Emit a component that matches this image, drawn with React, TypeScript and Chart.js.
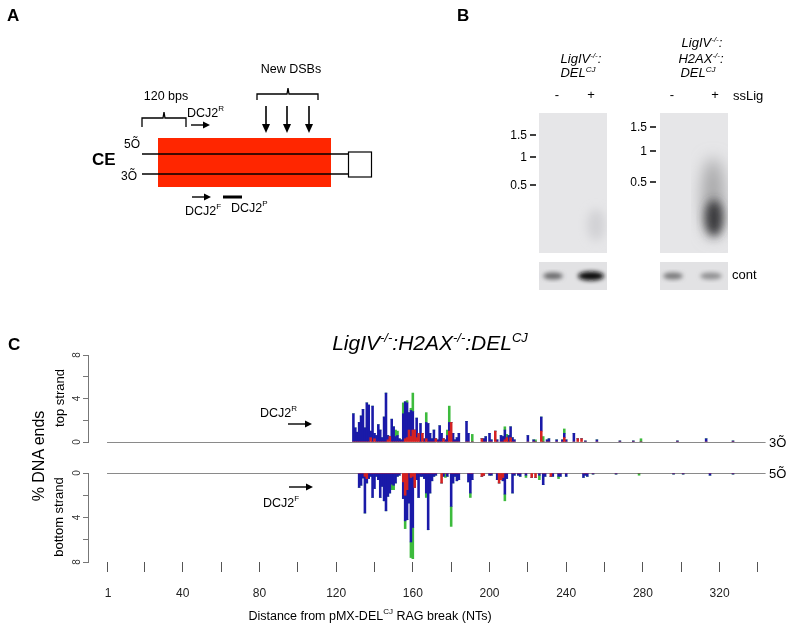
import React, { useEffect, useRef } from 'react';
import { Chart, registerables } from 'chart.js';
Chart.register(...registerables);

// ---------- DATA (panel C) ----------
const topPos = [129,130,131,132,133,134,135,136,137,138,
  139,140,141,142,143,144,145,146,147,148,
  149,150,151,152,153,154,155,156,157,158,
  159,160,161,162,163,164,165,166,167,168,
  169,170,171,172,173,174,175,176,177,178,
  179,180,181,182,183,184,188,189,191,196,
  197,198,200,201,203,204,206,207,208,209,
  210,211,212,213,220,223,224,227,228,230,
  231,235,238,239,240,244,246,248,250,256,
  268,275,279,298,313,327];
const topBlue = [2.6,1.3,0.9,1.8,2.4,3.0,1.3,3.6,3.4,0.6,
  3.3,0.5,0.6,1.6,1.1,0.4,2.3,4.5,0.4,0,
  2.1,1.4,0.5,0.6,0.3,0.2,2.6,3.4,3.2,1.6,
  2.4,1.7,0,1.8,0,1.7,0,0.3,1.5,1.7,
  0.8,0.3,1.1,0,0.2,1.5,0.8,0,0.2,0.6,
  0.8,0,0.8,0.2,0.4,0.8,1.9,0.8,0,0,
  0.3,0.5,0.8,0.2,0,0.2,0.6,0.5,0.9,0,
  0.6,1.0,0.4,0.2,0.6,0.2,0,1.3,0,0.2,
  0.3,0.2,0.2,0.4,0.2,0.8,0,0,0.1,0.2,
  0.1,0.1,0,0.1,0.3,0.1];
const topRed = [0,0,0,0,0,0,0,0,0,0.4,
  0,0.3,0,0,0,0,0,0,0.2,0.5,
  0,0,0,0,0,0,0,0.3,0.4,1.1,
  0.5,1.1,1.1,0.4,0.8,0,0.8,0,0.3,0,
  0,0,0,0.3,0,0,0,0.3,0,0,
  1.0,1.8,0,0,0,0,0,0,0,0.3,
  0,0,0,0,1.0,0,0,0,0.2,0.4,
  0,0.4,0,0,0,0,0,1.0,0,0,
  0,0,0,0.4,0,0,0.3,0.3,0,0,
  0,0,0,0,0,0];
const topGreen = [0,0,0,0,0,0,0,0,0,0,
  0,0,0,0,0,0,0,0,0,0,
  0,0,0.6,0.4,0,0,1.0,0,0.2,0,
  0.2,1.7,0,0,0,0,0,0,0.9,0,
  0,0,0,0,0,0,0,0,0,0.5,
  1.5,0,0,0,0,0,0,0,0.7,0,
  0,0,0,0,0,0,0,0,0.3,0.3,
  0,0,0,0,0,0,0.2,0,0.5,0,
  0,0,0,0.4,0,0,0,0,0,0,
  0,0,0.3,0,0,0];

const botPos = [132,133,134,135,136,137,138,139,140,141,
  142,143,144,145,146,147,148,149,150,151,
  152,153,155,156,157,158,159,160,161,162,
  163,164,165,166,167,168,169,170,171,172,
  175,176,177,178,180,181,182,183,184,189,
  190,191,196,197,200,201,204,205,206,207,
  208,209,212,213,215,216,219,222,224,226,
  228,229,232,233,236,237,240,249,250,251,
  254,266,278,296,301,315,327];
const botBlue = [1.3,1.1,0.45,3.3,0.4,0.5,0.3,2.2,1.4,0.3,
  0.6,2.2,1.2,2.5,3.4,2.1,1.8,1.0,1.1,0.9,
  0.3,0.2,1.5,2.3,2.7,2.7,5.8,4.6,0,0.6,
  2.2,0.3,0.3,0.5,1.8,5.1,1.8,0.7,0.3,0.2,
  0,0.3,0,0.3,3.0,0.9,0.3,0.7,0.6,0.8,
  1.8,0.6,0,0,0.2,0.2,0.6,0,0,0.3,
  1.9,0.5,1.8,0.2,0.2,0.3,0.2,0,0,0.2,
  1.05,0.3,0,0.3,0.3,0.3,0.3,0.4,0.2,0.3,
  0.1,0.1,0,0.1,0.1,0.2,0.1];
const botRed = [0,0,0,0.3,0.5,0,0,0,0,0,
  0,0,0,0,0,0,0,0,0,0,
  0,0,0.8,2.0,1.5,0,0.4,0.3,1.3,0,
  0,0,0,0,0,0,0,0,0,0,
  0.9,0,0,0,0,0,0,0,0,0,
  0,0,0.3,0.2,0,0,0,0.9,0.6,0.4,
  0,0,0,0,0,0,0,0.4,0.4,0,
  0,0,0.3,0,0,0,0,0,0,0,
  0,0,0,0,0,0,0];
const botGreen = [0,0,0,0,0,0,0,0,0,0,
  0,0,0,0,0,0,0,0.5,0.4,0,
  0,0,0,0.7,0,0,1.4,2.8,0,0,
  0,0,0,0,0.4,0,0,0,0,0,
  0,0,0.4,0,1.8,0,0,0,0,0,
  0.4,0,0,0,0,0,0,0,0,0,
  0.6,0,0,0,0,0,0.2,0,0,0.4,
  0,0,0,0,0.2,0,0,0,0,0,
  0,0,0.2,0,0,0,0];

const xTickValues = [1,20,40,60,80,100,120,140,160,180,200,220,240,260,280,300,320,340];
const xTickLabels = [1,40,80,120,160,200,240,280,320];
const yTickValues = [0,2,4,6,8];
const yTickLabels = [0,4,8];

const RED = '#d42222';
const BLUE = '#1a1aa8';
const GREEN = '#3dbb3d';
const FONT = '"Liberation Sans", Arial, Helvetica, sans-serif';

function series(pos: number[], vals: number[]) {
  return pos.map((p, i) => ({ x: p, y: vals[i] }));
}

const baselinePlugin = {
  id: 'baseline',
  beforeDatasetsDraw(chart: any) {
    const xs = chart.scales.x, ys = chart.scales.y, ctx = chart.ctx;
    const y = Math.round(ys.getPixelForValue(0)) + 0.5;
    ctx.save();
    ctx.strokeStyle = '#8a8a8a';
    ctx.lineWidth = 1;
    ctx.beginPath();
    ctx.moveTo(xs.getPixelForValue(0.5), y);
    ctx.lineTo(xs.getPixelForValue(344), y);
    ctx.stroke();
    ctx.restore();
  },
};

const yLabelPlugin = {
  id: 'ylabels',
  afterDraw(chart: any) {
    const ys = chart.scales.y, ctx = chart.ctx;
    ctx.save();
    ctx.fillStyle = '#333';
    ctx.font = '10px ' + FONT;
    ctx.textAlign = 'center';
    ctx.textBaseline = 'middle';
    yTickLabels.forEach((v) => {
      ctx.save();
      ctx.translate(ys.right - 11, ys.getPixelForValue(v));
      ctx.rotate(-Math.PI / 2);
      ctx.fillText(String(v), 0, 0);
      ctx.restore();
    });
    ctx.restore();
  },
};

function makeConfig(pos: number[], blue: number[], red: number[], green: number[], bottom: boolean): any {
  const ds = (label: string, vals: number[], color: string) => ({
    label,
    data: series(pos, vals),
    backgroundColor: color,
    borderWidth: 0,
    categoryPercentage: 1,
    barPercentage: 1,
  });
  return {
    type: 'bar',
    data: {
      datasets: [ds('red', red, RED), ds('blue', blue, BLUE), ds('green', green, GREEN)],
    },
    options: {
      responsive: false,
      animation: false,
      layout: { padding: bottom ? { left: 48, right: 25, top: 8, bottom: 28 } : { left: 48, right: 25, top: 10, bottom: 8 } },
      plugins: { legend: { display: false }, tooltip: { enabled: false } },
      scales: {
        x: {
          type: 'linear',
          min: -9.43,
          max: 346.3,
          offset: false,
          stacked: true,
          display: bottom,
          position: 'bottom',
          afterBuildTicks: (s: any) => { s.ticks = xTickValues.map((v) => ({ value: v })); },
          afterFit: (s: any) => { s.height = bottom ? 40 : 0; },
          ticks: {
            autoSkip: false,
            maxRotation: 0,
            minRotation: 0,
            padding: 14,
            color: '#222',
            font: { family: FONT, size: 12 },
            callback: (v: any) => (xTickLabels.includes(v) ? String(v) : ''),
          },
          grid: { offset: false, drawOnChartArea: false, drawTicks: true, tickLength: 10, color: '#555', lineWidth: 1 },
          border: { display: false },
        },
        y: {
          min: 0,
          max: 8,
          reverse: bottom,
          stacked: true,
          position: 'left',
          afterBuildTicks: (s: any) => { s.ticks = yTickValues.map((v) => ({ value: v })); },
          afterFit: (s: any) => { s.width = 40; },
          ticks: { display: false },
          grid: { drawOnChartArea: false, drawTicks: true, tickLength: 5, color: '#777' },
          border: { display: true, color: '#777' },
        },
      },
    },
    plugins: [baselinePlugin, yLabelPlugin],
  };
}

const T = { fontFamily: FONT } as any;

function Sup({ children, size = 9, up = 6 }: any) {
  return <tspan fontSize={size} dy={-up}>{children}</tspan>;
}

function Arrow({ x1, x2, y }: { x1: number; x2: number; y: number }) {
  return (
    <g>
      <line x1={x1} y1={y} x2={x2 - 5} y2={y} stroke="#000" strokeWidth={1.4} />
      <polygon points={`${x2 - 7},${y - 3.5} ${x2},${y} ${x2 - 7},${y + 3.5}`} fill="#000" />
    </g>
  );
}

function DownArrow({ x, y1, y2 }: { x: number; y1: number; y2: number }) {
  return (
    <g>
      <line x1={x} y1={y1} x2={x} y2={y2 - 6} stroke="#000" strokeWidth={1.6} />
      <polygon points={`${x - 4},${y2 - 9} ${x + 4},${y2 - 9} ${x},${y2}`} fill="#000" />
    </g>
  );
}

export default function App() {
  const topRef = useRef<HTMLCanvasElement>(null);
  const botRef = useRef<HTMLCanvasElement>(null);
  useEffect(() => {
    const c1 = new Chart(topRef.current as HTMLCanvasElement, makeConfig(topPos, topBlue, topRed, topGreen, false));
    const c2 = new Chart(botRef.current as HTMLCanvasElement, makeConfig(botPos, botBlue, botRed, botGreen, true));
    return () => { c1.destroy(); c2.destroy(); };
  }, []);

  return (
    <div style={{ position: 'fixed', left: 0, top: 0, width: 795, height: 630, background: '#fff', overflow: 'hidden' }}>
      <canvas ref={topRef} width={795} height={105} style={{ position: 'absolute', left: 0, top: 345, width: 795, height: 105 }} />
      <canvas ref={botRef} width={795} height={165} style={{ position: 'absolute', left: 0, top: 465, width: 795, height: 165 }} />
      <svg width={795} height={630} style={{ position: 'absolute', left: 0, top: 0, pointerEvents: 'none' }}>
        <defs>
          <filter id="blur5" x="-50%" y="-50%" width="200%" height="200%"><feGaussianBlur stdDeviation="5" /></filter>
          <filter id="blur2" x="-50%" y="-50%" width="200%" height="200%"><feGaussianBlur stdDeviation="2" /></filter>
          <filter id="blur8" x="-50%" y="-50%" width="200%" height="200%"><feGaussianBlur stdDeviation="8" /></filter>
          <clipPath id="gel1"><rect x={539} y={113} width={68} height={140} /></clipPath>
          <clipPath id="gel2"><rect x={660} y={113} width={68} height={140} /></clipPath>
          <clipPath id="cont1"><rect x={539} y={262} width={68} height={28} /></clipPath>
          <clipPath id="cont2"><rect x={660} y={262} width={68} height={28} /></clipPath>
        </defs>
        {/* ---------- Panel A ---------- */}
        <g style={T} fill="#000">
          <text x={7} y={21} fontSize={17} fontWeight="bold">A</text>
          <text x={291} y={73} fontSize={12.5} textAnchor="middle">New DSBs</text>
          <path d="M257,100 L257,94 L287,94 L288,88 L289,94 L318,94 L318,100" fill="none" stroke="#000" strokeWidth={1.3} />
          <DownArrow x={266} y1={106} y2={133} />
          <DownArrow x={287} y1={106} y2={133} />
          <DownArrow x={309} y1={106} y2={133} />
          <text x={166} y={100} fontSize={12.5} textAnchor="middle">120 bps</text>
          <path d="M142,127 L142,118 L163,118 L164,112 L165,118 L186,118 L186,127" fill="none" stroke="#000" strokeWidth={1.3} />
          <text x={187} y={117} fontSize={12.5}>DCJ2<Sup size={8}>R</Sup></text>
          <Arrow x1={191} x2={210} y={125} />
          <rect x={158} y={138} width={173} height={49} fill="#ff2600" />
          <line x1={142} y1={154} x2={348} y2={154} stroke="#000" strokeWidth={1.3} />
          <line x1={142} y1={174} x2={348} y2={174} stroke="#000" strokeWidth={1.3} />
          <rect x={348.5} y={152} width={23} height={25} fill="#fff" stroke="#000" strokeWidth={1.2} />
          <text x={124} y={148} fontSize={12}>5Õ</text>
          <text x={121} y={180} fontSize={12}>3Õ</text>
          <text x={92} y={165} fontSize={17} fontWeight="bold">CE</text>
          <Arrow x1={192} x2={211} y={197} />
          <rect x={223} y={195.5} width={19} height={3} fill="#000" />
          <text x={185} y={215} fontSize={12.5}>DCJ2<Sup size={8}>F</Sup></text>
          <text x={231} y={212} fontSize={12.5}>DCJ2<Sup size={8}>P</Sup></text>
        </g>
        {/* ---------- Panel B ---------- */}
        <g style={T} fill="#000">
          <text x={457} y={21} fontSize={17} fontWeight="bold">B</text>
          <text x={581} y={63} fontSize={13} fontStyle="italic" textAnchor="middle">LigIV<Sup size={8} up={5}>-/-</Sup><tspan dy={5}>:</tspan></text>
          <text x={578} y={77} fontSize={13} fontStyle="italic" textAnchor="middle">DEL<Sup size={8} up={5}>CJ</Sup></text>
          <text x={702} y={47} fontSize={13} fontStyle="italic" textAnchor="middle">LigIV<Sup size={8} up={5}>-/-</Sup><tspan dy={5}>:</tspan></text>
          <text x={701} y={63} fontSize={13} fontStyle="italic" textAnchor="middle">H2AX<Sup size={8} up={5}>-/-</Sup><tspan dy={5}>:</tspan></text>
          <text x={698} y={77} fontSize={13} fontStyle="italic" textAnchor="middle">DEL<Sup size={8} up={5}>CJ</Sup></text>
          <text x={557} y={99} fontSize={13} textAnchor="middle">-</text>
          <text x={591} y={99} fontSize={13} textAnchor="middle">+</text>
          <text x={672} y={99} fontSize={13} textAnchor="middle">-</text>
          <text x={715} y={99} fontSize={13} textAnchor="middle">+</text>
          <text x={733} y={100} fontSize={13}>ssLig</text>
          <rect x={539} y={113} width={68} height={140} fill="#e6e6e8" />
          <rect x={660} y={113} width={68} height={140} fill="#e6e6e8" />
          <g clipPath="url(#gel1)">
            <ellipse cx={596} cy={225} rx={9} ry={16} fill="#d2d2d5" filter="url(#blur5)" />
          </g>
          <g clipPath="url(#gel2)">
            <ellipse cx={713} cy={198} rx={11} ry={40} fill="#a4a4a6" filter="url(#blur8)" />
            <ellipse cx={714} cy={218} rx={9} ry={18} fill="#3a3a3c" filter="url(#blur5)" />
          </g>
          {[['1.5', 135], ['1', 157], ['0.5', 185]].map(([t, y]: any) => (
            <g key={'m1' + t}>
              <text x={527} y={y + 4} fontSize={12} textAnchor="end">{t}</text>
              <line x1={530} y1={y} x2={536} y2={y} stroke="#000" strokeWidth={1.5} />
            </g>
          ))}
          {[['1.5', 127], ['1', 151], ['0.5', 182]].map(([t, y]: any) => (
            <g key={'m2' + t}>
              <text x={647} y={y + 4} fontSize={12} textAnchor="end">{t}</text>
              <line x1={650} y1={y} x2={656} y2={y} stroke="#000" strokeWidth={1.5} />
            </g>
          ))}
          <rect x={539} y={262} width={68} height={28} fill="#e2e2e4" />
          <rect x={660} y={262} width={68} height={28} fill="#e2e2e4" />
          <g clipPath="url(#cont1)">
            <ellipse cx={553} cy={276} rx={10} ry={3.5} fill="#6a6a6c" filter="url(#blur2)" />
            <ellipse cx={591} cy={276} rx={13} ry={4.5} fill="#111" filter="url(#blur2)" />
          </g>
          <g clipPath="url(#cont2)">
            <ellipse cx={673} cy={276} rx={10} ry={3.5} fill="#7a7a7c" filter="url(#blur2)" />
            <ellipse cx={711} cy={276} rx={11} ry={3.5} fill="#909092" filter="url(#blur2)" />
          </g>
          <text x={732} y={279} fontSize={13}>cont</text>
        </g>
        {/* ---------- Panel C text ---------- */}
        <g style={T} fill="#000">
          <text x={8} y={350} fontSize={17} fontWeight="bold">C</text>
          <text x={430} y={350} fontSize={21} fontStyle="italic" textAnchor="middle">
            LigIV<Sup size={13} up={8}>-/-</Sup><tspan dy={8}>:H2AX</tspan><Sup size={13} up={8}>-/-</Sup><tspan dy={8}>:DEL</tspan><Sup size={13} up={8}>CJ</Sup>
          </text>
          <text transform="translate(40,456) rotate(-90)" fontSize={16} textAnchor="middle" dominantBaseline="middle">% DNA ends</text>
          <text transform="translate(61,398) rotate(-90)" fontSize={13} textAnchor="middle" dominantBaseline="middle">top strand</text>
          <text transform="translate(60,517) rotate(-90)" fontSize={13} textAnchor="middle" dominantBaseline="middle">bottom strand</text>
          <text x={260} y={417} fontSize={12.5}>DCJ2<Sup size={8}>R</Sup></text>
          <Arrow x1={288} x2={312} y={424} />
          <text x={263} y={507} fontSize={12.5}>DCJ2<Sup size={8}>F</Sup></text>
          <Arrow x1={289} x2={313} y={487} />
          <text x={769} y={447} fontSize={13}>3Õ</text>
          <text x={769} y={478} fontSize={13}>5Õ</text>
          <text x={370} y={620} fontSize={12.5} textAnchor="middle">Distance from pMX-DEL<Sup size={8}>CJ</Sup><tspan dy={6}>  RAG break (NTs)</tspan></text>
        </g>
      </svg>
    </div>
  );
}
